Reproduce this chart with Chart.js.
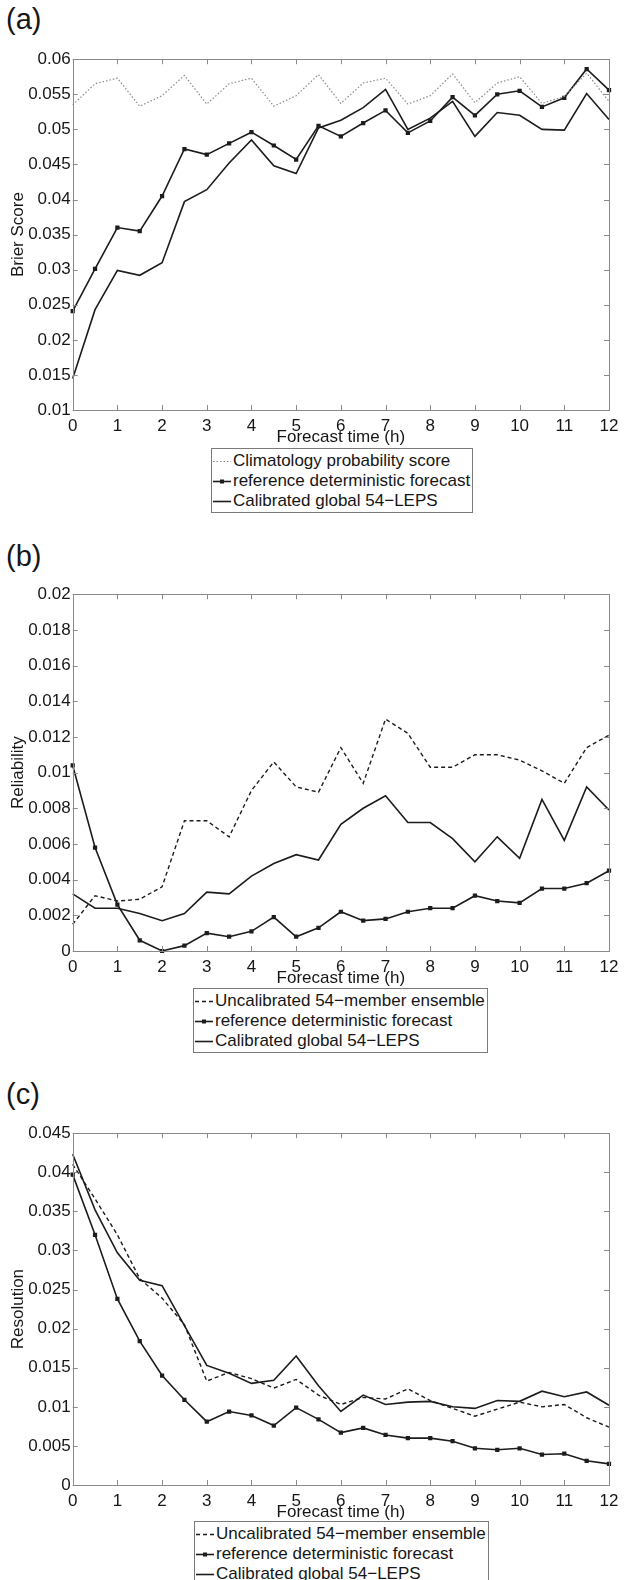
<!DOCTYPE html>
<html>
<head>
<meta charset="utf-8">
<script src="https://cdn.jsdelivr.net/npm/chart.js@4.4.1/dist/chart.umd.min.js"></script>
<style>
  body { margin:0; background:#fff; width:628px; height:1580px; position:relative; overflow:hidden;
         font-family:"Liberation Sans", Arial, sans-serif; color:#161616; }
  .tag { position:absolute; left:6px; font-size:29px; line-height:30px; }
  canvas { position:absolute; left:0; }
  .legend { position:absolute; background:#fff; border:1px solid #7a7a7a; font-size:17px; line-height:20px;
            padding:2px 2px 1px 1px; white-space:nowrap; }
  .legend div { display:flex; align-items:center; height:20px; }
  .legend svg { flex:none; margin-right:2px; }
</style>
</head>
<body>
<div class="tag" style="top:4px">(a)</div>
<canvas id="chartA" width="628" height="401" style="top:47px"></canvas>
<div class="legend" style="left:211px; top:448px">
  <div><svg width="18" height="20"><line x1="0" y1="10.5" x2="18" y2="10.5" stroke="#8a8a8a" stroke-width="1.2" stroke-dasharray="1.5 2"/></svg>Climatology probability score</div>
  <div><svg width="18" height="20"><line x1="0" y1="10.5" x2="18" y2="10.5" stroke="#1c1c1c" stroke-width="1.6"/><rect x="7" y="8.5" width="4" height="4" fill="#1c1c1c"/></svg>reference deterministic forecast</div>
  <div><svg width="18" height="20"><line x1="0" y1="10.5" x2="18" y2="10.5" stroke="#1c1c1c" stroke-width="1.6"/></svg>Calibrated global 54−LEPS</div>
</div>

<div class="tag" style="top:541px">(b)</div>
<canvas id="chartB" width="628" height="407" style="top:582px"></canvas>
<div class="legend" style="left:193px; top:988px">
  <div><svg width="18" height="20"><line x1="0" y1="10.5" x2="18" y2="10.5" stroke="#1c1c1c" stroke-width="1.4" stroke-dasharray="4 3"/></svg>Uncalibrated 54−member ensemble</div>
  <div><svg width="18" height="20"><line x1="0" y1="10.5" x2="18" y2="10.5" stroke="#1c1c1c" stroke-width="1.6"/><rect x="7" y="8.5" width="4" height="4" fill="#1c1c1c"/></svg>reference deterministic forecast</div>
  <div><svg width="18" height="20"><line x1="0" y1="10.5" x2="18" y2="10.5" stroke="#1c1c1c" stroke-width="1.6"/></svg>Calibrated global 54−LEPS</div>
</div>

<div class="tag" style="top:1079px">(c)</div>
<canvas id="chartC" width="628" height="402" style="top:1121px"></canvas>
<div class="legend" style="left:194px; top:1521px">
  <div><svg width="18" height="20"><line x1="0" y1="10.5" x2="18" y2="10.5" stroke="#1c1c1c" stroke-width="1.4" stroke-dasharray="4 3"/></svg>Uncalibrated 54−member ensemble</div>
  <div><svg width="18" height="20"><line x1="0" y1="10.5" x2="18" y2="10.5" stroke="#1c1c1c" stroke-width="1.6"/><rect x="7" y="8.5" width="4" height="4" fill="#1c1c1c"/></svg>reference deterministic forecast</div>
  <div><svg width="18" height="20"><line x1="0" y1="10.5" x2="18" y2="10.5" stroke="#1c1c1c" stroke-width="1.6"/></svg>Calibrated global 54−LEPS</div>
</div>

<script>
const hours = [0,0.5,1,1.5,2,2.5,3,3.5,4,4.5,5,5.5,6,6.5,7,7.5,8,8.5,9,9.5,10,10.5,11,11.5,12];

// (a) Brier score
const climA = [0.0535,0.0565,0.0573,0.0533,0.0548,0.0577,0.0536,0.0565,0.0573,0.0533,0.0548,0.0578,0.0537,
               0.0566,0.0573,0.0536,0.0548,0.0579,0.0538,0.0566,0.0575,0.0537,0.0547,0.0580,0.0540];
const refA  = [0.0241,0.0301,0.0360,0.0355,0.0405,0.0472,0.0464,0.0480,0.0496,0.0477,0.0457,0.0505,0.0490,
               0.0509,0.0527,0.0495,0.0512,0.0546,0.0520,0.0550,0.0555,0.0532,0.0545,0.0586,0.0556];
const calA  = [0.0145,0.0243,0.0299,0.0292,0.0310,0.0397,0.0414,0.0452,0.0485,0.0448,0.0437,0.0502,0.0513,
               0.0531,0.0557,0.0500,0.0516,0.0540,0.0490,0.0524,0.0520,0.0500,0.0499,0.0551,0.0514];

// (b) reliability
const uncalB = [0.0015,0.0031,0.0028,0.0029,0.0036,0.0073,0.0073,0.0064,0.0090,0.0106,0.0092,0.0089,0.0114,
                0.0094,0.0130,0.0122,0.0103,0.0103,0.0110,0.0110,0.0107,0.0101,0.0094,0.0114,0.0121];
const refB   = [0.0104,0.0058,0.0026,0.0006,0.0000,0.0003,0.0010,0.0008,0.0011,0.0019,0.0008,0.0013,0.0022,
                0.0017,0.0018,0.0022,0.0024,0.0024,0.0031,0.0028,0.0027,0.0035,0.0035,0.0038,0.0045];
const calB   = [0.0032,0.0024,0.0024,0.0021,0.0017,0.0021,0.0033,0.0032,0.0042,0.0049,0.0054,0.0051,0.0071,
                0.0080,0.0087,0.0072,0.0072,0.0063,0.0050,0.0064,0.0052,0.0085,0.0062,0.0092,0.0079];

// (c) resolution
const uncalC = [0.0410,0.0366,0.0320,0.0264,0.0239,0.0205,0.0133,0.0144,0.0136,0.0124,0.0135,0.0115,0.0103,
                0.0112,0.0110,0.0123,0.0108,0.0098,0.0088,0.0097,0.0106,0.0100,0.0103,0.0086,0.0074];
const refC   = [0.0397,0.0320,0.0238,0.0184,0.0140,0.0109,0.0081,0.0094,0.0089,0.0076,0.0099,0.0084,0.0067,
                0.0073,0.0064,0.0060,0.0060,0.0056,0.0047,0.0045,0.0047,0.0039,0.0040,0.0031,0.0027];
const calC   = [0.0423,0.0352,0.0297,0.0262,0.0255,0.0204,0.0153,0.0143,0.0130,0.0134,0.0165,0.0127,0.0094,
                0.0115,0.0103,0.0106,0.0107,0.0100,0.0098,0.0108,0.0107,0.0120,0.0113,0.0119,0.0102];

// y axis ranges: [min, max, step]
const yRangeA = [0.01, 0.06, 0.005];
const yRangeB = [0, 0.02, 0.002];
const yRangeC = [0, 0.045, 0.005];

const FONT = "'Liberation Sans', Arial, sans-serif";
const INK = "#161616";
const AXIS = "#8a8a8a";

function pts(arr) {
  return hours.map((h, i) => ({ x: h, y: arr[i] }));
}

function dotted(arr) {
  return { data: pts(arr), borderColor: AXIS, borderWidth: 1.2, borderDash: [1.5, 2], pointRadius: 0, clip: 5 };
}
function dashed(arr) {
  return { data: pts(arr), borderColor: "#1c1c1c", borderWidth: 1.4, borderDash: [4, 3], pointRadius: 0, clip: 5 };
}
function solid(arr) {
  return { data: pts(arr), borderColor: "#1c1c1c", borderWidth: 1.6, pointRadius: 0, clip: 5 };
}
function marked(arr) {
  return { data: pts(arr), borderColor: "#1c1c1c", borderWidth: 1.6, pointStyle: "rect", pointRadius: 3,
           pointBackgroundColor: "#1c1c1c", pointBorderWidth: 0, clip: 5 };
}

// matlab style box with inward ticks on all four sides
const boxTicks = {
  id: "boxTicks",
  afterDraw(chart) {
    const { ctx, chartArea: a, scales: { x, y } } = chart;
    ctx.save();
    ctx.strokeStyle = AXIS;
    ctx.lineWidth = 1;
    ctx.beginPath();
    x.ticks.forEach(t => {
      const px = Math.round(x.getPixelForValue(t.value)) + 0.5;
      ctx.moveTo(px, a.bottom); ctx.lineTo(px, a.bottom - 5);
      ctx.moveTo(px, a.top); ctx.lineTo(px, a.top + 5);
    });
    y.ticks.forEach(t => {
      const py = Math.round(y.getPixelForValue(t.value)) + 0.5;
      ctx.moveTo(a.left, py); ctx.lineTo(a.left + 5, py);
      ctx.moveTo(a.right, py); ctx.lineTo(a.right - 5, py);
    });
    ctx.stroke();
    ctx.strokeRect(Math.round(a.left) + 0.5, Math.round(a.top) + 0.5,
                   Math.round(a.right - a.left), Math.round(a.bottom - a.top));
    ctx.restore();
  }
};

function makePanel(id, yRange, yTitle, datasets) {
  const ctx = document.getElementById(id).getContext("2d");
  return new Chart(ctx, {
    type: "line",
    data: { datasets },
    options: {
      responsive: false,
      animation: false,
      devicePixelRatio: 1,
      layout: { padding: { top: 10, right: 19, left: 0, bottom: 0 } },
      elements: { line: { tension: 0 } },
      plugins: { legend: { display: false }, tooltip: { enabled: false } },
      scales: {
        x: {
          type: "linear", min: 0, max: 12,
          grid: { display: false, drawTicks: false },
          border: { display: false },
          ticks: { stepSize: 1, padding: 6, color: INK, font: { family: FONT, size: 17 }, maxRotation: 0, autoSkip: false },
          title: { display: true, text: "Forecast time (h)", color: INK, font: { family: FONT, size: 17 }, padding: 0 },
          afterFit: s => { s.height = 38; }
        },
        y: {
          min: yRange[0], max: yRange[1],
          grid: { display: false, drawTicks: false },
          border: { display: false },
          ticks: { stepSize: yRange[2], padding: 2, color: INK, font: { family: FONT, size: 17 },
                   callback: v => String(+v.toFixed(4)) },
          title: { display: true, text: yTitle, color: INK, font: { family: FONT, size: 17 }, padding: { top: 8 } },
          afterFit: s => { s.width = 72.7; }
        }
      }
    },
    plugins: [boxTicks]
  });
}

makePanel("chartA", yRangeA, "Brier Score", [dotted(climA), marked(refA), solid(calA)]);
makePanel("chartB", yRangeB, "Reliability", [dashed(uncalB), marked(refB), solid(calB)]);
makePanel("chartC", yRangeC, "Resolution", [dashed(uncalC), marked(refC), solid(calC)]);
</script>
</body>
</html>
